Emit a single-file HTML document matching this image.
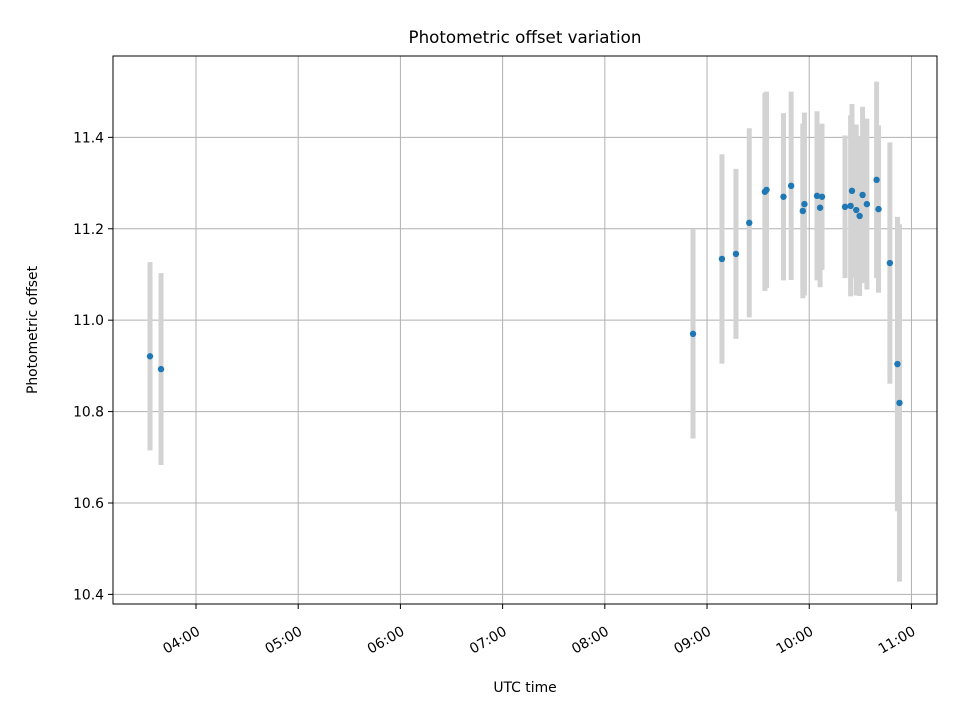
<!DOCTYPE html>
<html><head><meta charset="utf-8">
<style>
html,body{margin:0;padding:0;background:#fff;}
svg{display:block;font-family:"DejaVu Sans","Liberation Sans",sans-serif;}
</style></head>
<body>
<svg id="chart" width="960" height="720" viewBox="0 0 960 720" xmlns="http://www.w3.org/2000/svg">
<rect width="960" height="720" fill="#fff"/>
<text x="525" y="43" font-size="16.7" text-anchor="middle" fill="#000">Photometric offset variation</text>
<g id="grid"></g>
<g id="bars"></g>
<g id="dots"></g>
<rect x="113" y="56" width="824" height="548" fill="none" stroke="#000" stroke-width="1"/>
<g id="ticks"></g>
<text x="525" y="692" font-size="13.9" text-anchor="middle">UTC time</text>
<text transform="translate(37,330) rotate(-90)" font-size="13.9" text-anchor="middle">Photometric offset</text>
</svg>
<script>
// time in decimal hours (UTC)
const times = [3.55,3.658,8.863,9.146,9.283,9.413,9.566,9.582,9.748,9.823,9.937,9.953,10.076,10.106,10.125,10.35,10.405,10.418,10.46,10.493,10.522,10.564,10.659,10.678,10.789,10.863,10.883];
const offsets = [10.921,10.893,10.970,11.134,11.145,11.213,11.281,11.285,11.270,11.294,11.239,11.254,11.272,11.246,11.270,11.248,11.250,11.283,11.241,11.228,11.274,11.254,11.307,11.243,11.125,10.904,10.819];
const errors = [0.206,0.21,0.229,0.229,0.186,0.207,0.217,0.215,0.183,0.206,0.191,0.2,0.185,0.174,0.16,0.156,0.198,0.19,0.187,0.175,0.193,0.187,0.215,0.183,0.264,0.322,0.391];
const xTickHours = [4,5,6,7,8,9,10,11];
const xTickLabels = ["04:00","05:00","06:00","07:00","08:00","09:00","10:00","11:00"];
const yTickValues = [10.4,10.6,10.8,11.0,11.2,11.4];
const yTickLabels = ["10.4","10.6","10.8","11.0","11.2","11.4"];

const X0=113,X1=937,Y0=56,Y1=604;
const tMin=3.188,tMax=11.25,vMin=10.379,vMax=11.578;
function xs(t){return X0+(t-tMin)/(tMax-tMin)*(X1-X0);}
function ys(v){return Y1-(v-vMin)/(vMax-vMin)*(Y1-Y0);}
const NS="http://www.w3.org/2000/svg";
function mk(tag,attrs,parent){const e=document.createElementNS(NS,tag);for(const k in attrs)e.setAttribute(k,attrs[k]);parent.appendChild(e);return e;}
const grid=document.getElementById('grid'),bars=document.getElementById('bars'),dots=document.getElementById('dots'),ticks=document.getElementById('ticks');

xTickHours.forEach((h,i)=>{
  const x=xs(h);
  const g=mk('line',{x1:x,x2:x,y1:Y0,y2:Y1,stroke:'#b0b0b0','stroke-width':1},grid);
  
  
  const t=mk('line',{x1:x,x2:x,y1:Y1,y2:Y1+5,stroke:'#000','stroke-width':1},ticks);
  
  
  const l=mk('text',{transform:`translate(${x+5},${Y1+30}) rotate(-30)`,'font-size':13.9,'text-anchor':'end'},ticks);
  
  
  l.textContent=xTickLabels[i];
});
yTickValues.forEach((v,i)=>{
  const y=ys(v);
  const g=mk('line',{x1:X0,x2:X1,y1:y,y2:y,stroke:'#b0b0b0','stroke-width':1},grid);
  
  
  const t=mk('line',{x1:X0-5,x2:X0,y1:y,y2:y,stroke:'#000','stroke-width':1},ticks);
  
  
  const l=mk('text',{x:X0-9,y:y+5,'font-size':13.9,'text-anchor':'end'},ticks);
  
  
  l.textContent=yTickLabels[i];
});
times.forEach((t,i)=>{
  const x=xs(t);
  const b=mk('line',{x1:x,x2:x,y1:ys(offsets[i]+errors[i]),y2:ys(offsets[i]-errors[i]),stroke:'#d3d3d3','stroke-width':5},bars);
  
  
});
times.forEach((t,i)=>{
  const c=mk('circle',{cx:xs(t),cy:ys(offsets[i]),r:3.2,fill:'#1f77b4'},dots);
  
  
});
</script>
</body></html>
